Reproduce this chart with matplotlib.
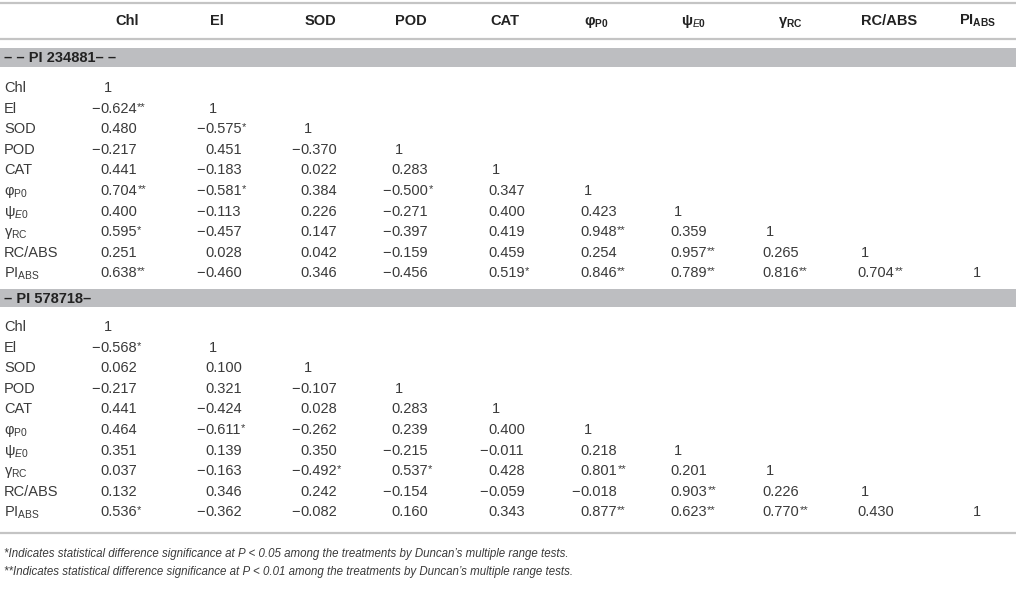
import matplotlib.pyplot as plt
from matplotlib.patches import Rectangle

plt.rcParams['font.family'] = ['Liberation Sans', 'DejaVu Sans']
plt.rcParams['mathtext.fontset'] = 'custom'
plt.rcParams['mathtext.rm'] = 'Liberation Sans'
plt.rcParams['mathtext.it'] = 'Liberation Sans:italic'
plt.rcParams['mathtext.bf'] = 'Liberation Sans:bold'

# tabla de correlaciones (triangulo inferior)
col_labels = ['Chl', 'El', 'SOD', 'POD', 'CAT', r'φ$_{\mathbf{P0}}$', r'ψ$_{\mathit{E}\mathbf{0}}$',
              r'γ$_{\mathbf{RC}}$', 'RC/ABS', r'PI$_{\mathbf{ABS}}$']
row_labels = ['Chl', 'El', 'SOD', 'POD', 'CAT', r'φ$_{\mathrm{P0}}$', r'ψ$_{E\mathrm{0}}$',
              r'γ$_{\mathrm{RC}}$', 'RC/ABS', r'PI$_{\mathrm{ABS}}$']

grupo1 = '– – PI 234881– –'
valores1 = [
    [1],
    [-0.624, 1],
    [0.480, -0.575, 1],
    [-0.217, 0.451, -0.370, 1],
    [0.441, -0.183, 0.022, 0.283, 1],
    [0.704, -0.581, 0.384, -0.500, 0.347, 1],
    [0.400, -0.113, 0.226, -0.271, 0.400, 0.423, 1],
    [0.595, -0.457, 0.147, -0.397, 0.419, 0.948, 0.359, 1],
    [0.251, 0.028, 0.042, -0.159, 0.459, 0.254, 0.957, 0.265, 1],
    [0.638, -0.460, 0.346, -0.456, 0.519, 0.846, 0.789, 0.816, 0.704, 1],
]
sig1 = [
    [''],
    ['**', ''],
    ['', '*', ''],
    ['', '', '', ''],
    ['', '', '', '', ''],
    ['**', '*', '', '*', '', ''],
    ['', '', '', '', '', '', ''],
    ['*', '', '', '', '', '**', '', ''],
    ['', '', '', '', '', '', '**', '', ''],
    ['**', '', '', '', '*', '**', '**', '**', '**', ''],
]

grupo2 = '– PI 578718–'
valores2 = [
    [1],
    [-0.568, 1],
    [0.062, 0.100, 1],
    [-0.217, 0.321, -0.107, 1],
    [0.441, -0.424, 0.028, 0.283, 1],
    [0.464, -0.611, -0.262, 0.239, 0.400, 1],
    [0.351, 0.139, 0.350, -0.215, -0.011, 0.218, 1],
    [0.037, -0.163, -0.492, 0.537, 0.428, 0.801, 0.201, 1],
    [0.132, 0.346, 0.242, -0.154, -0.059, -0.018, 0.903, 0.226, 1],
    [0.536, -0.362, -0.082, 0.160, 0.343, 0.877, 0.623, 0.770, 0.430, 1],
]
sig2 = [
    [''],
    ['*', ''],
    ['', '', ''],
    ['', '', '', ''],
    ['', '', '', '', ''],
    ['', '*', '', '', '', ''],
    ['', '', '', '', '', '', ''],
    ['', '', '*', '*', '', '**', '', ''],
    ['', '', '', '', '', '', '**', '', ''],
    ['*', '', '', '', '', '**', '**', '**', '', ''],
]

notas = ["*Indicates statistical difference significance at P < 0.05 among the treatments by Duncan’s multiple range tests.",
         "**Indicates statistical difference significance at P < 0.01 among the treatments by Duncan’s multiple range tests."]

# posiciones en pixeles
col_x = [100, 205, 300, 391, 488, 580, 670, 762, 857, 969]
head_x = [127, 217, 320, 411, 505, 596, 694, 790, 889, 978]
pitch = 20.6
color_txt = '#3a3a3a'
color_linea = '#c4c4c4'
color_banda = '#bdbec1'
fs = 10.5

fig = plt.figure(figsize=(10.16, 6.12), dpi=100)
ax = fig.add_axes([0, 0, 1, 1])
ax.set_xlim(0, 1016)
ax.set_ylim(612, 0)
ax.axis('off')

def linea(y):
    ax.plot([0, 1016], [y, y], color=color_linea, lw=1.6, solid_capstyle='butt')

def banda(y0, y1, texto):
    ax.add_patch(Rectangle((0, y0), 1016, y1 - y0, facecolor=color_banda, edgecolor='none'))
    ax.text(4, (y0 + y1) / 2 + 5, texto, fontsize=fs, fontweight='bold', color='#222222',
            va='baseline', ha='left')

def tabla(valores, sig, y_ini):
    for i, fila in enumerate(valores):
        y = y_ini + i * pitch + 5
        ax.text(4, y, row_labels[i], fontsize=fs, color=color_txt, va='baseline', ha='left')
        for j, v in enumerate(fila):
            x = col_x[j]
            if v == 1:
                ax.text(x + 4, y, '1', fontsize=fs, color=color_txt, va='baseline', ha='left')
                continue
            t = ax.text(x, y, f'{abs(v):.3f}', fontsize=fs, color=color_txt, va='baseline', ha='left')
            if v < 0:
                ax.text(x - 0.5, y, '−', fontsize=fs, color=color_txt, va='baseline', ha='right')
            if sig[i][j]:
                ax.annotate(sig[i][j], xy=(1, 1), xycoords=t, xytext=(0.4, 0), textcoords='offset points',
                            fontsize=8, color=color_txt, va='top', ha='left')

# encabezado
linea(3)
for j, lab in enumerate(col_labels):
    ax.text(head_x[j], 25, lab, fontsize=fs, fontweight='bold', color='#222222', va='baseline', ha='center')
linea(39)

banda(48, 67, grupo1)
tabla(valores1, sig1, 87)
banda(289, 307, grupo2)
tabla(valores2, sig2, 326)
linea(533)

for k, nota in enumerate(notas):
    ax.text(4, 557 + k * 18, nota, fontsize=8.3, style='italic', color=color_txt, va='baseline', ha='left')

fig.savefig('out.png', dpi=100)
